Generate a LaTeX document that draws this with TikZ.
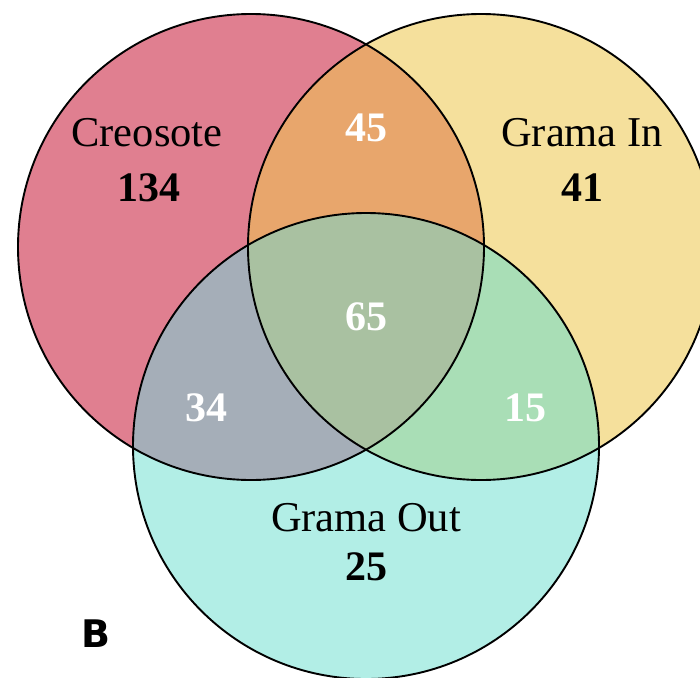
\documentclass[tikz,border=0pt]{standalone}
\usepackage{fontspec}
\setmainfont{Liberation Serif}
\newfontfamily\panelfont{DejaVu Sans}
\definecolor{creoC}{HTML}{E07F90}
\definecolor{inC}{HTML}{F5E09C}
\definecolor{outC}{HTML}{B2EEE6}
\definecolor{ciC}{HTML}{E8A66C}
\definecolor{coC}{HTML}{A5AEB8}
\definecolor{ioC}{HTML}{A9DEB6}
\definecolor{cioC}{HTML}{A9C1A1}
\tikzset{
  setlabel/.style={font=\fontsize{42.5}{46}\selectfont, text=black},
  setcount/.style={font=\fontsize{42}{46}\selectfont\bfseries, text=black},
  regcount/.style={font=\fontsize{42}{46}\selectfont\bfseries, text=white},
  outline/.style={draw=black, line width=1.9pt}
}
\begin{document}
\begin{tikzpicture}[x=1pt,y=-1pt]
\useasboundingbox (0,0) rectangle (700,677);
\coordinate (cc) at (251,247);
\coordinate (ci) at (481,247);
\coordinate (co) at (366,446);
\def\rr{233pt}
% single sets
\fill[creoC] (cc) circle[radius=\rr];
\fill[inC] (ci) circle[radius=\rr];
\fill[outC] (co) circle[radius=\rr];
% pairwise overlaps
\begin{scope}
  \clip (cc) circle[radius=\rr];
  \fill[ciC] (ci) circle[radius=\rr];
  \fill[coC] (co) circle[radius=\rr];
\end{scope}
\begin{scope}
  \clip (ci) circle[radius=\rr];
  \fill[ioC] (co) circle[radius=\rr];
  % triple overlap
  \clip (cc) circle[radius=\rr];
  \fill[cioC] (co) circle[radius=\rr];
\end{scope}
% outlines
\draw[outline] (cc) circle[radius=\rr];
\draw[outline] (ci) circle[radius=\rr];
\draw[outline] (co) circle[radius=\rr];
% labels
\node[setlabel] (lc) at (147,133) {Creosote};
\node[setcount] (nc) at (149,188) {134};
\node[setlabel] (li) at (582,133) {Grama In};
\node[setcount] (ni) at (582,188) {41};
\node[setlabel] (lo) at (366,518) {Grama Out};
\node[setcount] (no) at (366,567) {25};
\node[regcount] (nci) at (366,128) {45};
\node[regcount] (ncio) at (366,317) {65};
\node[regcount] (nco) at (206,408) {34};
\node[regcount] (nio) at (525,408) {15};
\node[font=\panelfont\fontsize{38}{40}\selectfont\bfseries] (pb) at (96,634) {B};
\end{tikzpicture}
\end{document}
